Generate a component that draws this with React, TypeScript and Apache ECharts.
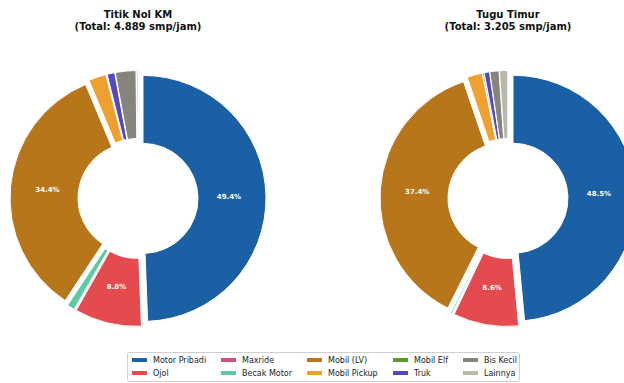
import React, { useEffect, useRef } from "react";
import * as echarts from "echarts";

const categories = [
  "Motor Pribadi",
  "Ojol",
  "Maxride",
  "Becak Motor",
  "Mobil (LV)",
  "Mobil Pickup",
  "Mobil Elf",
  "Truk",
  "Bis Kecil",
  "Lainnya",
];
const colors = [
  "#1b5fa5",
  "#e34b4f",
  "#d64f7f",
  "#5ccba4",
  "#b8761b",
  "#f0a02f",
  "#5b9a2b",
  "#5549bf",
  "#86857d",
  "#bab7ad",
];
const titikNolValues = [49.4, 8.8, 0.1, 1.0, 34.4, 2.3, 0.1, 1.0, 2.7, 0.2];
const tuguTimurValues = [48.5, 8.6, 0.1, 0.2, 37.4, 2.0, 0.2, 0.7, 1.2, 1.1];
const chartTitles = ["Titik Nol KM", "Tugu Timur"];
const totals = ["4.889", "3.205"];

const FONT = "DejaVu Sans";

export default function App() {
  const ref = useRef<HTMLDivElement>(null);
  useEffect(() => {
    if (!ref.current) return;
    const chart = echarts.init(ref.current, null, { renderer: "svg" });
    const centers = [
      [138, 198.5],
      [508, 198.5],
    ];
    const valueSets = [titikNolValues, tuguTimurValues];
    const series: any[] = [];
    valueSets.forEach((vals, k) => {
      const data = categories.map((c, i) => ({
        name: c,
        value: vals[i],
        selected: true,
        itemStyle: { color: colors[i] },
      }));
      series.push({
        type: "pie",
        center: centers[k],
        radius: [55, 123],
        startAngle: 90,
        clockwise: true,
        selectedMode: "multiple",
        selectedOffset: 5,
        avoidLabelOverlap: false,
        label: { show: false },
        labelLine: { show: false },
        emphasis: { disabled: true },
        silent: true,
        itemStyle: { borderColor: "#ffffff", borderWidth: 1 },
        data,
      });
      series.push({
        type: "pie",
        center: centers[k],
        radius: [0, 166],
        startAngle: 90,
        clockwise: true,
        selectedMode: "multiple",
        selectedOffset: 5,
        avoidLabelOverlap: false,
        silent: true,
        emphasis: { disabled: true },
        legendHoverLink: false,
        itemStyle: { color: "rgba(0,0,0,0)", borderWidth: 0 },
        label: {
          show: true,
          position: "inside",
          color: "#ffffff",
          fontFamily: FONT,
          fontWeight: "bold",
          fontSize: 7,
          formatter: (p: any) =>
            p.percent >= 5 ? p.value.toFixed(1) + "%" : "",
        },
        labelLine: { show: false },
        data: categories.map((c, i) => ({
          name: c,
          value: vals[i],
          selected: true,
        })),
      });
    });

    const colX = [130, 219, 305, 391, 461];
    const legends = colX.map((x, j) => ({
      orient: "vertical",
      left: x,
      top: 355,
      padding: 0,
      itemWidth: 17,
      itemHeight: 6,
      itemGap: 3,
      icon: "rect",
      selectedMode: false,
      data: [categories[2 * j], categories[2 * j + 1]],
      textStyle: { fontFamily: FONT, fontSize: 8, color: "#222", lineHeight: 10 },
    }));

    const graphic: any[] = [
      {
        type: "rect",
        shape: { x: 127.5, y: 352.5, width: 392, height: 29, r: 2 },
        style: { fill: "#ffffff", stroke: "#d0d0d0", lineWidth: 1 },
        z: -1,
      },
    ];
    chartTitles.forEach((t, k) => {
      graphic.push({
        type: "text",
        x: centers[k][0],
        y: 20.5,
        style: {
          text: t + "\n(Total: " + totals[k] + " smp/jam)",
          textAlign: "center",
          textVerticalAlign: "middle",
          fontFamily: FONT,
          fontWeight: "bold",
          fontSize: 10,
          lineHeight: 12,
          fill: "#111",
        },
      });
    });

    chart.setOption({
      animation: false,
      color: colors,
      backgroundColor: "#ffffff",
      legend: legends,
      graphic,
      series,
    });
    return () => chart.dispose();
  }, []);
  return (
    <div
      ref={ref}
      style={{ position: "fixed", left: 0, top: 0, width: 624, height: 383 }}
    />
  );
}
